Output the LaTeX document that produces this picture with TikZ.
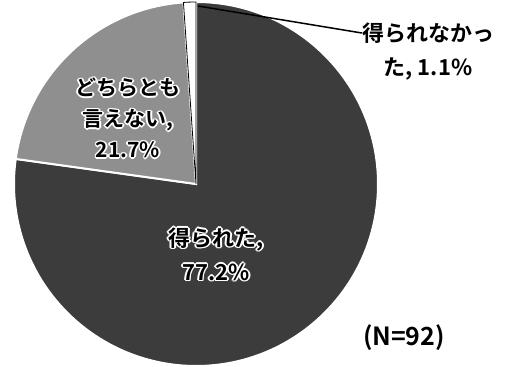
\documentclass[tikz,border=0pt]{standalone}
\usepackage{fontspec}
\newfontfamily\jpfont{Noto Sans CJK JP}[BoldFont={* Bold}]
\usetikzlibrary{positioning}

\definecolor{gotgray}{HTML}{3C3C3C}
\definecolor{midgray}{HTML}{8F8F8F}

% black text with a white rim round it
\newcommand{\haloat}[2]{\rlap{\kern#1\raise#2\copy0}}
\newcommand{\halo}[1]{\setbox0=\hbox{\color{white}#1}%
  \hbox{\haloat{-1.6pt}{0pt}\haloat{1.6pt}{0pt}\haloat{0pt}{1.6pt}\haloat{0pt}{-1.6pt}%
    \haloat{1.1pt}{1.1pt}\haloat{-1.1pt}{1.1pt}\haloat{1.1pt}{-1.1pt}\haloat{-1.1pt}{-1.1pt}%
    \color{black}#1}}

\begin{document}
\begin{tikzpicture}[x=1pt, y=1pt,
    slice/.style = {draw=white, line width=2pt},
    tag/.style = {font=\jpfont\bfseries\fontsize{22}{34}\selectfont, align=center, inner sep=0pt}]
  \useasboundingbox (0,0) rectangle (509,367);
  \coordinate (c) at (196,183);

  % slices, clockwise from the top
  \filldraw[slice, fill=gotgray] (c) -- ++(90:182) arc[start angle=90, end angle=-187.92, radius=182] -- cycle;
  \filldraw[slice, fill=midgray] (c) -- ++(172.08:182) arc[start angle=172.08, end angle=93.96, radius=182] -- cycle;
  \filldraw[draw=black, line width=0.8pt, fill=white] (c) -- ++(93.96:182) arc[start angle=93.96, end angle=90, radius=182] -- cycle;

  % labels
  \node[tag] (nolbl) at (428,334) {得られなかっ};
  \node[tag, below=14pt of nolbl] (nopct) {た, 1.1\%};
  \coordinate (nopt) at (198,361);
  \draw[line width=1.5pt] (nopt) -- (nolbl.west);

  \node[tag, font=\jpfont\bfseries\fontsize{21}{31}\selectfont] (neither) at (128,249)
    {\halo{どちらとも}\\\halo{言えない,}\\\halo{21.7\%}};
  \node[tag] (gotlbl) at (216,113) {\halo{得られた,}\\\halo{77.2\%}};
  \node[tag, font=\jpfont\bfseries\fontsize{25}{30}\selectfont] (count) at (404,29) {(N=92)};
\end{tikzpicture}
\end{document}
